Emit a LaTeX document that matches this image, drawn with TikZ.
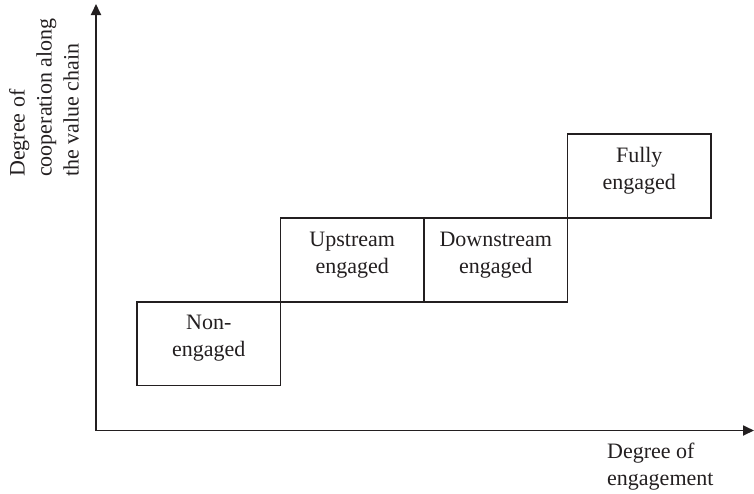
\documentclass[tikz,border=0pt]{standalone}
\usepackage{fontspec}
\setmainfont{Liberation Serif}
\usetikzlibrary{arrows.meta}
\definecolor{ink}{HTML}{231F20}
\begin{document}
\begin{tikzpicture}[x=1pt,y=-1pt,
  stagebox/.style={draw=ink, line width=1.8pt, minimum width=143.5pt, minimum height=83.7pt,
    inner sep=0pt, align=center, text=ink, font=\fontsize{22}{27}\selectfont,
    execute at end node={\rule[-15pt]{0pt}{15pt}}},
  axis/.style={draw=ink, line width=1.8pt, {Triangle[length=11pt,width=10pt]}-{Triangle[length=11pt,width=10pt]}},
  axlabel/.style={inner sep=0pt, align=left, text=ink, font=\fontsize{22}{27}\selectfont}]
\useasboundingbox (0,0) rectangle (754,493);
\coordinate (ytip) at (96,4);
\coordinate (xtip) at (754,430.5);
\draw[axis] (ytip) |- (xtip);
\node[stagebox] (ne) at (208.75,343.55) {Non-\\engaged};
\node[stagebox] (up) at (352.25,259.85) {Upstream\\engaged};
\node[stagebox] (dn) at (495.75,259.85) {Downstream\\engaged};
\node[stagebox] (fu) at (639.25,176.15) {Fully\\engaged};
\node[axlabel, rotate=90, anchor=north west] (ylab) at (9,177) {Degree of\\cooperation along\\the value chain};
\node[axlabel, anchor=north west] (xlab) at (607,443) {Degree of\\engagement};
\end{tikzpicture}
\end{document}
